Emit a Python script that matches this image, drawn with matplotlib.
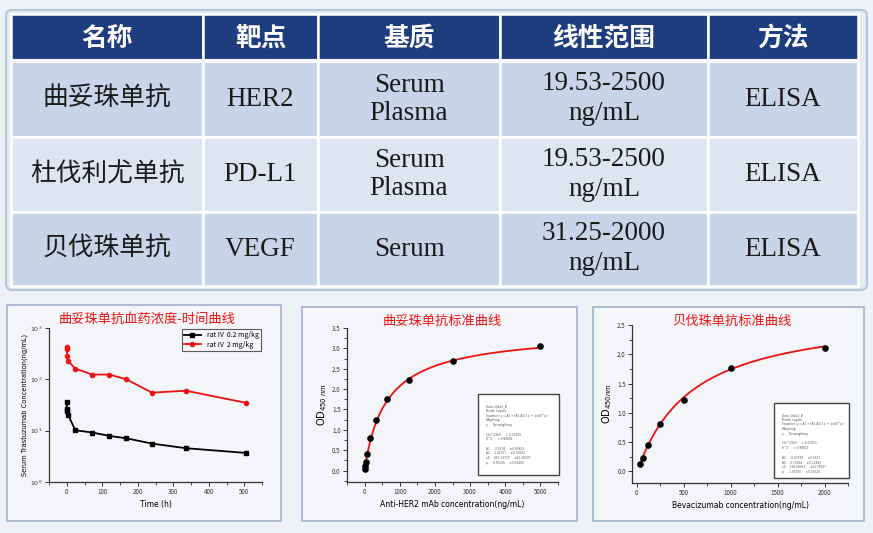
import numpy as np
import matplotlib
matplotlib.use("Agg")
import matplotlib.pyplot as plt
from matplotlib.patches import Rectangle, FancyBboxPatch
from matplotlib.ticker import MultipleLocator, FixedLocator, FixedFormatter

plt.rcParams['font.family'] = ['Noto Sans CJK SC', 'DejaVu Sans']

# ---------------- table data ----------------
headers = ["名称", "靶点", "基质", "线性范围", "方法"]
names = ["曲妥珠单抗", "杜伐利尤单抗", "贝伐珠单抗"]
targets = ["HER2", "PD-L1", "VEGF"]
matrices = [["Serum", "Plasma"], ["Serum", "Plasma"], ["Serum"]]
ranges = [["19.53-2500", "ng/mL"], ["19.53-2500", "ng/mL"], ["31.25-2000", "ng/mL"]]
methods = ["ELISA", "ELISA", "ELISA"]

# ---------------- PK data ----------------
pk_time = [0.083, 0.25, 1, 4, 24, 72, 120, 168, 240, 336, 504]
pk_low = [36.7, 26.4, 24.5, 20.1, 10.2, 9.2, 7.9, 7.1, 5.6, 4.55, 3.69]
pk_high = [425, 394, 283, 226, 162, 124, 124, 100, 55, 60, 35]
pk_labels = ["rat IV  0.2 mg/kg", "rat IV  2 mg/kg"]

# ---------------- standard curves ----------------
her2_conc = [9.77, 19.53, 39.06, 78.13, 156.25, 312.5, 625, 1250, 2500, 5000]
her2_od = [0.05, 0.11, 0.22, 0.40, 0.79, 1.23, 1.76, 2.23, 2.68, 3.05]
her2_fit = {"A1": 0.0, "A2": 3.45, "x0": 650.0, "p": 0.95}

bev_conc = [31.25, 62.5, 125, 250, 500, 1000, 2000]
bev_od = [0.12, 0.22, 0.45, 0.80, 1.22, 1.76, 2.10]
bev_fit = {"A1": -0.02, "A2": 2.72, "x0": 565.0, "p": 1.03}


def logistic(x, A1, A2, x0, p):
    return A2 + (A1 - A2) / (1 + (x / x0) ** p)


W, H = 873, 533
fig = plt.figure(figsize=(W / 100, H / 100), dpi=100)
fig.patch.set_facecolor("#eef2f7")

bg = fig.add_axes([0, 0, 1, 1])
bg.set_xlim(0, W)
bg.set_ylim(H, 0)
bg.axis("off")

# table frame
bg.add_patch(FancyBboxPatch((6, 10), 861, 280, boxstyle="round,pad=0,rounding_size=6",
                            facecolor="#e4ebf3", edgecolor="#b5c6d6", lw=1.5))
col_x = [11, 203, 318, 500, 708, 858]
row_y = [14, 61, 137, 212, 286]
row_colors = ["#1d3d7e", "#c8d5e8", "#dde5f0", "#c8d5e8"]
for r in range(4):
    for c in range(5):
        x0, x1 = col_x[c], col_x[c + 1]
        y0, y1 = row_y[r], row_y[r + 1]
        bg.add_patch(Rectangle((x0, y0), x1 - x0, y1 - y0, facecolor=row_colors[r],
                               edgecolor="white", lw=1.8))
bg.plot([col_x[0], col_x[-1]], [row_y[1], row_y[1]], color="#f4f6fa", lw=3)

for c, h in enumerate(headers):
    bg.text((col_x[c] + col_x[c + 1]) / 2, (row_y[0] + row_y[1]) / 2 + 1, h,
            color="white", fontsize=18.5, fontweight="bold", ha="center", va="center")

serif = ["Liberation Serif", "DejaVu Serif"]
for r in range(3):
    yc = (row_y[r + 1] + row_y[r + 2]) / 2
    bg.text((col_x[0] + col_x[1]) / 2, yc, names[r], fontsize=18.5, color="#1a1a1a",
            ha="center", va="center")
    bg.text((col_x[1] + col_x[2]) / 2, yc, targets[r], fontsize=19.5, color="#1a1a1a",
            ha="center", va="center", family=serif)
    lines = matrices[r]
    offs = [-14, 14] if len(lines) == 2 else [0]
    for ln, o in zip(lines, offs):
        bg.text((col_x[2] + col_x[3]) / 2, yc + o, ln, fontsize=19.5, color="#1a1a1a",
                ha="center", va="center", family=serif)
    for ln, o in zip(ranges[r], [-15, 15]):
        bg.text((col_x[3] + col_x[4]) / 2, yc + o, ln, fontsize=19.5, color="#1a1a1a",
                ha="center", va="center", family=serif)
    bg.text((col_x[4] + col_x[5]) / 2, yc, methods[r], fontsize=19.5, color="#1a1a1a",
            ha="center", va="center", family=serif)

# panel boxes
panel_boxes = [(7, 305, 274, 216), (302, 307, 275, 214), (593, 307, 271, 214)]
for (x, y, w, h) in panel_boxes:
    bg.add_patch(Rectangle((x, y), w, h, facecolor="#f3f5f9", edgecolor="#9fb2cc", lw=1.2))


def fpos(x0, y0, x1, y1):
    return [x0 / W, 1 - y1 / H, (x1 - x0) / W, (y1 - y0) / H]


def style_axes(ax):
    ax.set_facecolor("none")
    for s in ["top", "right"]:
        ax.spines[s].set_visible(False)
    for s in ["left", "bottom"]:
        ax.spines[s].set_color("#333333")
        ax.spines[s].set_linewidth(0.9)
    ax.tick_params(which="major", direction="out", length=3, width=0.7, labelsize=4.5,
                   colors="#333333", pad=1.5)
    ax.tick_params(which="minor", direction="out", length=2, width=0.6, colors="#333333")


# ---- panel 1: PK ----
ax1 = fig.add_axes(fpos(49, 328, 262, 482))
style_axes(ax1)
ax1.set_yscale("log")
ax1.set_ylim(1, 1000)
ax1.set_xlim(-50, 550)
ax1.yaxis.set_major_locator(FixedLocator([1, 10, 100, 1000]))
ax1.yaxis.set_major_formatter(FixedFormatter(["$10^0$", "$10^1$", "$10^2$", "$10^3$"]))
ax1.yaxis.set_minor_locator(FixedLocator([]))
ax1.xaxis.set_major_locator(MultipleLocator(100))
ax1.xaxis.set_minor_locator(MultipleLocator(50))
ax1.plot(pk_time, pk_low, color="black", marker="s", ms=3, lw=1.3, label=pk_labels[0])
ax1.plot(pk_time, pk_high, color="#ee1111", marker="o", ms=3, lw=1.3, label=pk_labels[1])
leg = ax1.legend(loc="upper right", fontsize=5, frameon=True, fancybox=False,
                 edgecolor="#333333", borderpad=0.3, handlelength=2.5, labelspacing=0.2,
                 borderaxespad=0.2)
leg.get_frame().set_linewidth(0.8)
leg.get_frame().set_facecolor("#f7f8fb")
ax1.set_xlabel("Time (h)", fontsize=5.5, labelpad=3, family="DejaVu Sans")
ax1.set_ylabel("Serum Trastuzumab Concentration(ng/mL)", fontsize=4.8, labelpad=2,
               family="DejaVu Sans")
bg.text(147, 319, "曲妥珠单抗血药浓度-时间曲线", color="#ee1111", fontsize=9.5,
        ha="center", va="center")

# ---- panel 2: HER2 standard curve ----
ax2 = fig.add_axes(fpos(347, 328, 558, 482))
style_axes(ax2)
ax2.set_xlim(-500, 5500)
ax2.set_ylim(-0.28, 3.5)
ax2.xaxis.set_major_locator(MultipleLocator(1000))
ax2.xaxis.set_minor_locator(MultipleLocator(500))
ax2.yaxis.set_major_locator(MultipleLocator(0.5))
ax2.yaxis.set_minor_locator(MultipleLocator(0.25))
ax2.yaxis.set_major_formatter(matplotlib.ticker.FormatStrFormatter("%.1f"))
xf = np.linspace(min(her2_conc), max(her2_conc), 400)
ax2.plot(xf, logistic(xf, **her2_fit), color="#ee1111", lw=1.3, zorder=2)
ax2.scatter(her2_conc, her2_od, s=14, color="black", zorder=3)
ax2.set_xlabel("Anti-HER2 mAb concentration(ng/mL)", fontsize=5.5, labelpad=3,
               family="DejaVu Sans")
ax2.set_ylabel("OD$_{450\\ nm}$", fontsize=7, labelpad=2, family="DejaVu Sans")
bg.text(442, 321, "曲妥珠单抗标准曲线", color="#ee1111", fontsize=9.5, ha="center", va="center")

# ---- panel 3: Bevacizumab standard curve ----
ax3 = fig.add_axes(fpos(632, 325, 848, 483))
style_axes(ax3)
ax3.set_xlim(-50, 2250)
ax3.set_ylim(-0.2, 2.5)
ax3.xaxis.set_major_locator(MultipleLocator(500))
ax3.xaxis.set_minor_locator(MultipleLocator(250))
ax3.yaxis.set_major_locator(MultipleLocator(0.5))
ax3.yaxis.set_minor_locator(MultipleLocator(0.25))
ax3.yaxis.set_major_formatter(matplotlib.ticker.FormatStrFormatter("%.1f"))
xf = np.linspace(min(bev_conc), max(bev_conc), 400)
ax3.plot(xf, logistic(xf, **bev_fit), color="#ee1111", lw=1.3, zorder=2)
ax3.scatter(bev_conc, bev_od, s=14, color="black", zorder=3)
ax3.set_xlabel("Bevacizumab concentration(ng/mL)", fontsize=5.5, labelpad=3,
               family="DejaVu Sans")
ax3.set_ylabel("OD$_{450nm}$", fontsize=7, labelpad=2, family="DejaVu Sans")
bg.text(732, 321, "贝伐珠单抗标准曲线", color="#ee1111", fontsize=9.5, ha="center", va="center")


# fit-info boxes
def info_box(x, y, w, h, lines):
    bg.add_patch(Rectangle((x, y), w, h, facecolor="white", edgecolor="#444444", lw=1.0,
                           zorder=5))
    bg.text(x + 8, y + 10, "\n".join(lines), fontsize=2.05, color="#555555", va="top",
            ha="left", family="DejaVu Sans", linespacing=1.25, zorder=6)


info_box(478, 394, 81, 81, [
    "Data: Data1_B", "Model: Logistic",
    "Equation: y = A2 + (A1-A2)/(1 + (x/x0)^p)", "Weighting:", "y      No weighting", "",
    "Chi^2/DoF     = 0.00309", "R^2      = 0.99892", "",
    "A1     -0.0194     \u00b10.00604", "A2     3.45057     \u00b10.10082",
    "x0     650.13727     \u00b141.20037", "p      0.95226     \u00b10.04400"])
info_box(774, 403, 75, 75, [
    "Data: Data1_B", "Model: Logistic",
    "Equation: y = A2 + (A1-A2)/(1 + (x/x0)^p)", "Weighting:", "y      No weighting", "",
    "Chi^2/DoF     = 0.00051", "R^2      = 0.99927", "",
    "A1     -0.02156     \u00b10.0127", "A2     2.72566     \u00b10.12865",
    "x0     565.06815     \u00b124.75597", "p      1.03000     \u00b10.06626"])

fig.savefig("out.png", dpi=100, facecolor=fig.get_facecolor())
